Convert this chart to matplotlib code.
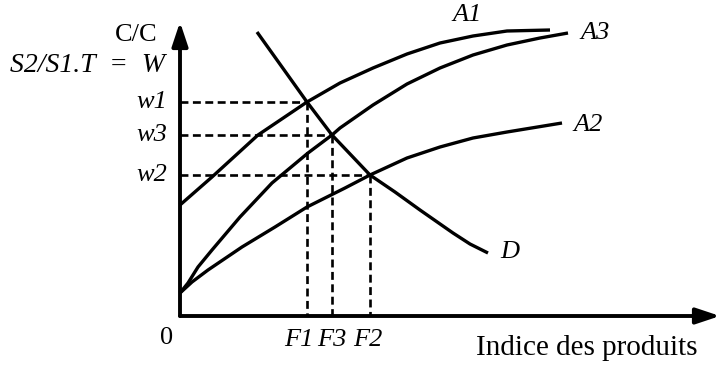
import matplotlib
matplotlib.use("Agg")
import matplotlib.pyplot as plt
from matplotlib.patches import FancyArrowPatch

# curves (x = product index, y = C/C ratio W)
a1_x = [0.0, 0.32, 0.78, 1.27, 1.60, 1.93, 2.27, 2.60, 2.93, 3.27, 3.70]
a1_y = [1.11, 1.39, 1.81, 2.14, 2.33, 2.48, 2.62, 2.73, 2.80, 2.85, 2.86]

a3_x = [0.0, 0.08, 0.18, 0.32, 0.60, 0.92, 1.28, 1.52, 1.60, 1.93, 2.27, 2.60, 2.93, 3.27, 3.60, 3.88]
a3_y = [0.23, 0.33, 0.49, 0.66, 0.99, 1.33, 1.63, 1.81, 1.88, 2.11, 2.32, 2.48, 2.61, 2.71, 2.78, 2.83]

a2_x = [0.0, 0.12, 0.28, 0.62, 0.95, 1.27, 1.65, 1.90, 2.27, 2.60, 2.93, 3.27, 3.82]
a2_y = [0.23, 0.34, 0.46, 0.69, 0.89, 1.09, 1.28, 1.41, 1.58, 1.69, 1.78, 1.84, 1.93]

d_x = [0.77, 1.27, 1.52, 1.90, 2.15, 2.40, 2.73, 2.90, 3.08]
d_y = [2.84, 2.14, 1.81, 1.41, 1.24, 1.06, 0.83, 0.72, 0.63]

# equilibrium points (D crossing A1, A3, A2)
eq_f = [1.27, 1.52, 1.90]
eq_w = [2.14, 1.81, 1.41]
f_labels = ["F1", "F3", "F2"]
w_labels = ["w1", "w3", "w2"]

x_end = 5.40
y_end = 2.94

plt.rcParams["font.family"] = ["Liberation Serif", "DejaVu Serif"]

fig = plt.figure(figsize=(7.21, 3.65), dpi=100)
ax = fig.add_axes([0, 0, 1, 1])
ax.set_xlim(-1.80, 5.41)
ax.set_ylim(-0.49, 3.16)
ax.axis("off")

lw = 2.4
for xs, ys in ((a1_x, a1_y), (a3_x, a3_y), (a2_x, a2_y), (d_x, d_y)):
    ax.plot(xs, ys, color="black", lw=lw, solid_capstyle="butt", solid_joinstyle="round")

for f, w in zip(eq_f, eq_w):
    ax.plot([0, f], [w, w], color="black", lw=1.9, linestyle=(0, (3.0, 1.7)))
    ax.plot([f, f], [w, 0], color="black", lw=1.9, linestyle=(0, (3.0, 1.7)))

# axes with arrow heads
for end in ((x_end, 0), (0, y_end)):
    ax.add_patch(FancyArrowPatch((0, 0), end, arrowstyle="-|>,head_length=0.9,head_width=0.3",
                                 mutation_scale=16, color="black", lw=2.8, shrinkA=0, shrinkB=0))

fs = 19
ax.text(-0.23, 2.81, "C/C", ha="right", va="center", fontsize=fs)
ax.text(-0.15, 2.51, "S2/S1.T  =  W", ha="right", va="center", fontsize=20, style="italic")
for w, lab in zip(eq_w, w_labels):
    ax.text(-0.13, w, lab, ha="right", va="center", fontsize=fs, style="italic")
ax.text(-0.13, -0.22, "0", ha="center", va="center", fontsize=fs)
for f, lab, dx in zip(eq_f, f_labels, [-0.08, 0.0, -0.02]):
    ax.text(f + dx, -0.24, lab, ha="center", va="center", fontsize=fs, style="italic")

ax.text(2.87, 3.01, "A1", ha="center", va="center", fontsize=fs, style="italic")
ax.text(4.00, 2.83, "A3", ha="left", va="center", fontsize=fs, style="italic")
ax.text(3.93, 1.91, "A2", ha="left", va="center", fontsize=fs, style="italic")
ax.text(3.20, 0.64, "D", ha="left", va="center", fontsize=fs, style="italic")
ax.text(4.07, -0.32, "Indice des produits", ha="center", va="center", fontsize=21)

fig.savefig("out.png", dpi=100)
